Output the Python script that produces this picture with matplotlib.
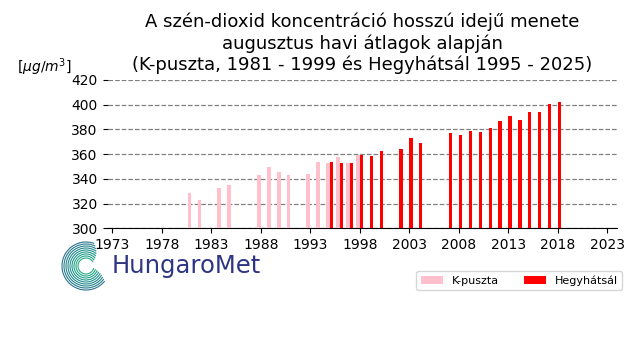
import matplotlib
matplotlib.use("Agg")
import matplotlib.pyplot as plt
import numpy as np
from matplotlib.patches import Arc

kp_years = [1981, 1982, 1984, 1985, 1988, 1989, 1990, 1991, 1993, 1994, 1995, 1996, 1997, 1998]
kp_vals = [328.5, 322.8, 332.5, 335.0, 343.0, 349.4, 345.4, 343.0, 343.7, 353.5, 352.7, 357.5, 352.7, 359.0]

hh_years = [1995, 1996, 1997, 1998, 1999, 2000, 2002, 2003, 2004, 2007, 2008, 2009, 2010,
            2011, 2012, 2013, 2014, 2015, 2016, 2017, 2018]
hh_vals = [353.5, 352.7, 352.7, 359.0, 358.3, 362.3, 364.0, 373.0, 369.0, 376.8, 375.2, 378.5,
           377.6, 380.9, 386.5, 390.6, 387.3, 393.8, 393.8, 400.2, 401.8]

xticks = [1973, 1978, 1983, 1988, 1993, 1998, 2003, 2008, 2013, 2018, 2023]
yticks = [300, 320, 340, 360, 380, 400, 420]

fig = plt.figure(figsize=(6.4, 3.6), dpi=100)
ax = fig.add_axes([0.168, 0.366, 0.7965, 0.412])

ax.bar(kp_years, np.array(kp_vals) - 300, bottom=300, width=-0.38, align='edge',
       color='pink', label='K-puszta', zorder=3)
ax.bar(hh_years, np.array(hh_vals) - 300, bottom=300, width=0.33, align='edge',
       color='red', label='Hegyhátsál', zorder=3)

ax.set_xlim(1972.53, 2024.0)
ax.set_ylim(300, 420)
ax.set_xticks(xticks)
ax.set_yticks(yticks)
ax.tick_params(labelsize=10)
ax.yaxis.grid(True, linestyle='--', color='gray', linewidth=0.9)
for s in ['left', 'right', 'top']:
    ax.spines[s].set_visible(False)

ax.set_title("A szén-dioxid koncentráció hosszú idejű menete\naugusztus havi átlagok alapján\n(K-puszta, 1981 - 1999 és Hegyhátsál 1995 - 2025)",
             fontsize=13, pad=7)
fig.text(0.026, 0.812, r"[$\mu g/m^3$]", fontsize=10, va='center')

fig.legend(loc='center right', bbox_to_anchor=(0.981, 0.221), ncol=2, fontsize=8,
           handlelength=2.0, columnspacing=2.2, borderpad=0.4)

# logo
lax = fig.add_axes([0.0, 0.0, 1.0, 1.0], facecolor='none')
lax.set_xlim(0, 640)
lax.set_ylim(360, 0)
lax.axis('off')
cx, cy = 86, 266
for i, r in enumerate(np.linspace(8, 24, 9)):
    lax.add_patch(Arc((cx, cy), 2 * r, 2 * r, theta1=15 + i * 3, theta2=330 - i * 5,
                      color=plt.cm.viridis(0.62 - 0.03 * i), linewidth=0.8))
lax.text(112, 266, "HungaroMet", fontsize=17.5, color='#2e3584', va='center', ha='left')

fig.savefig("out.png", dpi=100)
